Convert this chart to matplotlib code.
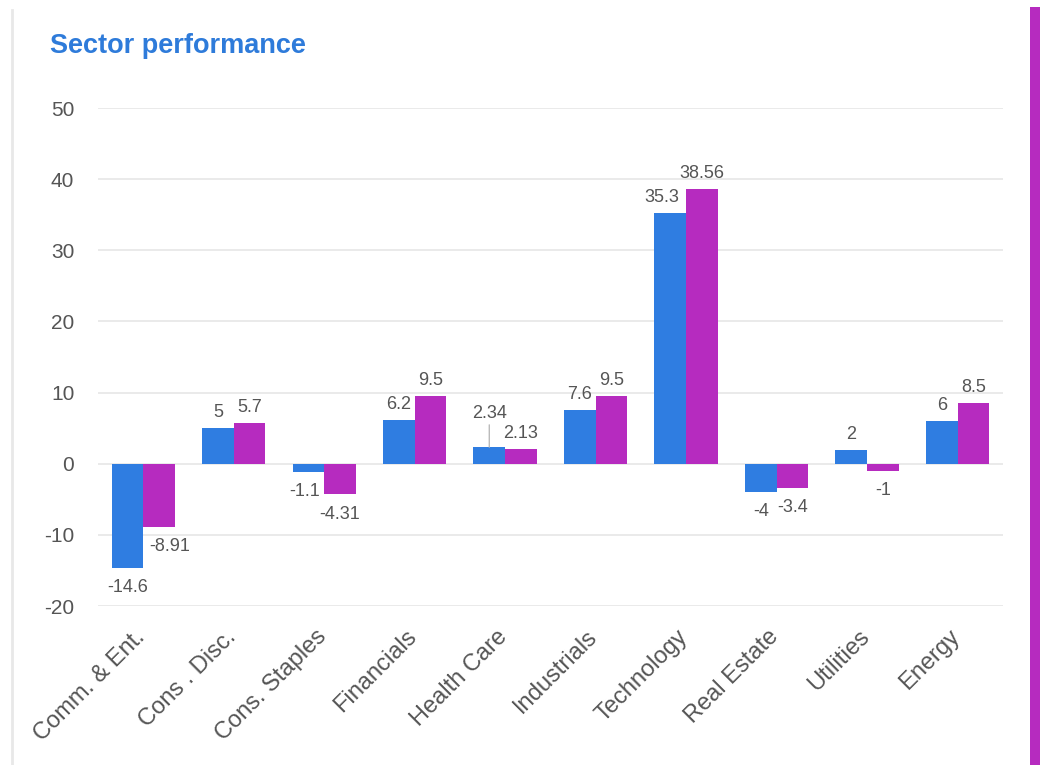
import matplotlib.pyplot as plt
from matplotlib.patches import Rectangle
from matplotlib.lines import Line2D
from matplotlib.transforms import ScaledTranslation
import numpy as np

sectors = ["Comm. & Ent.", "Cons . Disc.", "Cons. Staples", "Financials", "Health Care",
           "Industrials", "Technology", "Real Estate", "Utilities", "Energy"]
blue_vals = [-14.6, 5, -1.1, 6.2, 2.34, 7.6, 35.3, -4, 2, 6]
magenta_vals = [-8.91, 5.7, -4.31, 9.5, 2.13, 9.5, 38.56, -3.4, -1, 8.5]
blue_text = ["-14.6", "5", "-1.1", "6.2", "2.34", "7.6", "35.3", "-4", "2", "6"]
magenta_text = ["-8.91", "5.7", "-4.31", "9.5", "2.13", "9.5", "38.56", "-3.4", "-1", "8.5"]

blue = "#2F7DE1"
magenta = "#B62BBF"
grey = "#555555"

plt.rcParams['font.family'] = ['Liberation Sans', 'DejaVu Sans']
plt.rcParams['axes.unicode_minus'] = False

fig = plt.figure(figsize=(10.4, 7.65), dpi=100)
ax = fig.add_axes([0.0942, 0.2078, 0.870, 0.651])

x = np.arange(len(sectors))
w = 0.35
b1 = ax.bar(x - w / 2, blue_vals, w, color=blue, zorder=3)
b2 = ax.bar(x + w / 2, magenta_vals, w, color=magenta, zorder=3)

# label nudges (points) to mimic the reference's collision handling
blue_dx = [0, 0, -3, 0, 0, 0, -6, 0, 0, 0]
blue_dy = [0, 0, 0, 0, 13, 0, 0, 0, 0, 0]
magenta_dx = [8, 0, 0, 0, 0, 0, 0, 0, 0, 0]
magenta_dy = [0] * 10

def label(bars, vals, texts, dxs, dys):
    for r, v, t, dx, dy in zip(bars, vals, texts, dxs, dys):
        cx = r.get_x() + r.get_width() / 2
        if v >= 0:
            ax.annotate(t, (cx, v), xytext=(dx, 5 + dy), textcoords="offset points",
                        ha="center", va="bottom", fontsize=13, color=grey)
            if dy:
                # leader line for the raised label
                ax.annotate("", xy=(cx, v), xytext=(0, dy + 3), textcoords="offset points",
                            arrowprops=dict(arrowstyle="-", color="#BBBBBB", lw=1,
                                            shrinkA=0, shrinkB=0))
        else:
            ax.annotate(t, (cx, v), xytext=(dx, -8 - dy), textcoords="offset points",
                        ha="center", va="top", fontsize=13, color=grey)

label(b1, blue_vals, blue_text, blue_dx, blue_dy)
label(b2, magenta_vals, magenta_text, magenta_dx, magenta_dy)

ax.set_xlim(-0.5, len(sectors) - 0.5)
ax.set_ylim(-20, 50)
ax.set_yticks(range(-20, 51, 10))
ax.grid(axis="y", color="#E6E6E6", lw=1.2, zorder=0)
for s in ax.spines.values():
    s.set_visible(False)
ax.tick_params(axis="y", length=0, pad=17, labelsize=15, labelcolor=grey)
ax.tick_params(axis="x", length=0, pad=12, labelsize=17, labelcolor=grey)
ax.set_xticks(x)
ax.set_xticklabels(sectors, rotation=45, ha="right", rotation_mode="anchor")
shift = ScaledTranslation(-0.09, -0.03, fig.dpi_scale_trans)
for t in ax.get_xticklabels():
    t.set_transform(t.get_transform() + shift)

fig.text(0.048, 0.94, "Sector performance", fontsize=19.5, fontweight="bold",
         color="#2E7BDA", ha="left", va="center")

# page decorations
fig.add_artist(Line2D([0.0115, 0.0115], [0, 0.987], color="#E8E8E8", lw=2))
fig.add_artist(Rectangle((0.9905, 0), 0.0095, 0.991, color=magenta, lw=0))

fig.savefig("out.png", dpi=100)
